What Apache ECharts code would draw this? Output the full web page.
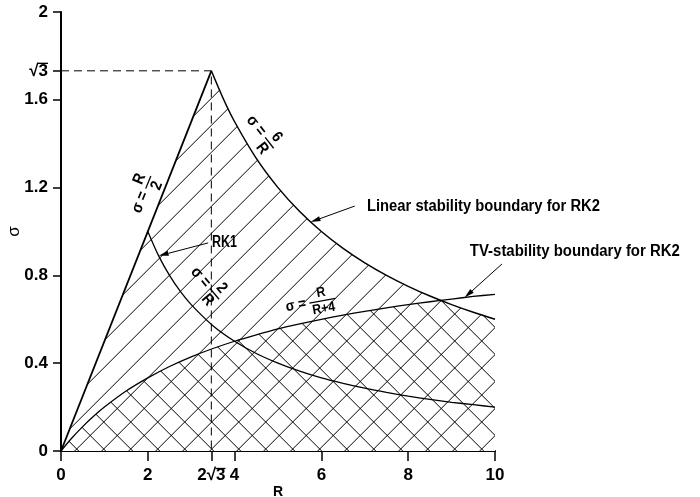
<!DOCTYPE html>
<html>
<head>
<meta charset="utf-8">
<script src="https://cdn.jsdelivr.net/npm/echarts@6/dist/echarts.min.js"></script>
<style>
  html, body { margin: 0; padding: 0; background: #fff; }
  #chart { width: 700px; height: 497px; }
</style>
</head>
<body>
<div id="chart"></div>
<script>
// sigma = R/2 : rising edge of the linear stability region
const halfR = [0, 3.464];
const halfS = [0, 1.732];
// sigma = 6/R : linear stability boundary for RK2
const sixR = [3.464, 3.75, 4, 4.5, 5, 5.5, 6, 6.5, 7, 7.5, 8, 8.5, 9, 9.5, 10];
const sixS = [1.732, 1.6, 1.5, 1.333, 1.2, 1.091, 1.0, 0.923, 0.857, 0.8, 0.75, 0.706, 0.667, 0.632, 0.6];
// sigma = 2/R : RK1 boundary
const twoR = [2, 2.25, 2.5, 2.75, 3, 3.5, 4, 4.5, 5, 5.5, 6, 6.5, 7, 7.5, 8, 8.5, 9, 9.5, 10];
const twoS = [1, 0.889, 0.8, 0.727, 0.667, 0.571, 0.5, 0.444, 0.4, 0.364, 0.333, 0.308, 0.286, 0.267, 0.25, 0.235, 0.222, 0.211, 0.2];
// sigma = R/(R+4) : TV-stability boundary for RK2
const tvR = [0, 0.25, 0.5, 0.75, 1, 1.5, 2, 2.5, 3, 3.5, 4, 4.5, 5, 5.5, 6, 6.5, 7, 7.5, 8, 8.5, 9, 9.5, 10];
const tvS = [0, 0.059, 0.111, 0.158, 0.2, 0.273, 0.333, 0.385, 0.429, 0.467, 0.5, 0.529, 0.556, 0.579, 0.6, 0.619, 0.636, 0.652, 0.667, 0.68, 0.692, 0.704, 0.714];
// where R/(R+4) meets 6/R
const crossR = 8.745;
const crossS = 0.686;
// the peak (2√3, √3)
const peakR = 3.464;
const peakS = 1.732;
// axis ticks
const xTicks = [0, 2, 3.464, 4, 6, 8, 10];
const xTickText = ['0', '2', '2√3', '4', '6', '8', '10'];
const yTicks = [0, 0.4, 0.8, 1.2, 1.6, 1.732, 2];
const yTickText = ['0', '0.4', '0.8', '1.2', '1.6', '√3', '2'];

const FONT = "'Liberation Sans', Arial, sans-serif";
const TICK_FONT_SIZE = 17;
const X_LABEL_MARGIN = 16;
const Y_LABEL_MARGIN = 13;
const pairs = (xs, ys) => xs.map((x, i) => [x, ys[i]]);

// region under the TV boundary: R/(R+4) up to the crossing, then 6/R
const tvAreaPts = pairs(tvR, tvS).filter(p => p[0] < crossR)
  .concat([[crossR, crossS]])
  .concat(pairs(sixR, sixS).filter(p => p[0] > crossR));

// hatch tiles: "/" lines satisfy x+y = c (mod P), "\" lines x-y = d (mod P)
function hatchTile(slash, back, white) {
  const P = 27;
  const cv = document.createElement('canvas');
  cv.width = P; cv.height = P;
  const g = cv.getContext('2d');
  if (white) { g.fillStyle = '#fff'; g.fillRect(0, 0, P, P); }
  g.strokeStyle = '#000';
  g.lineWidth = 1;
  for (let k = -2; k <= 2; k++) {
    if (slash) {
      const C = 12.7 + P * k;
      g.beginPath(); g.moveTo(C + 10, -10); g.lineTo(C - P - 10, P + 10); g.stroke();
    }
    if (back) {
      const D = 5.7 + P * k;
      g.beginPath(); g.moveTo(D - 10, -10); g.lineTo(D + P + 10, P + 10); g.stroke();
    }
  }
  return cv;
}
const slashFill = { image: hatchTile(true, false, false), repeat: 'repeat' };
const crossFill = { image: hatchTile(true, true, true), repeat: 'repeat' };

const chart = echarts.init(document.getElementById('chart'), null, { renderer: 'canvas' });

const areaSeries = (data, fill, z, smooth) => ({
  type: 'line', data, symbol: 'none', smooth, silent: true, z,
  lineStyle: { opacity: 0 },
  areaStyle: { color: fill, opacity: 1 }
});
const curve = (data, width, smooth, extra) => Object.assign({
  type: 'line', data, symbol: 'none', smooth, silent: true, z: 5,
  lineStyle: { color: '#000', width }
}, extra || {});

chart.setOption({
  animation: false,
  backgroundColor: '#fff',
  grid: { left: 61, right: 205, top: 12, bottom: 46, containLabel: false, outerBoundsMode: 'none' },
  xAxis: {
    type: 'value', min: 0, max: 10,
    name: 'R', nameLocation: 'middle', nameGap: 34, nameMoveOverlap: false,
    nameTextStyle: { fontFamily: FONT, fontWeight: 'bold', fontSize: 14, color: '#000' },
    axisLine: { show: true, onZero: false, lineStyle: { color: '#000', width: 2 } },
    axisTick: { show: true, inside: false, length: 10, customValues: xTicks, lineStyle: { color: '#000', width: 1.5 } },
    axisLabel: {
      customValues: xTicks, margin: X_LABEL_MARGIN, color: '#000', fontFamily: FONT, fontWeight: 'bold',
      fontSize: TICK_FONT_SIZE, hideOverlap: false,
      formatter: v => xTickText[xTicks.indexOf(v)]
    },
    splitLine: { show: false }
  },
  yAxis: {
    type: 'value', min: 0, max: 2,
    name: 'σ', nameLocation: 'middle', nameGap: 38, nameRotate: 90, nameMoveOverlap: false,
    nameTextStyle: { fontFamily: FONT, fontSize: 17, color: '#000' },
    axisLine: { show: true, onZero: false, lineStyle: { color: '#000', width: 2 } },
    axisTick: { show: true, inside: false, length: 8, customValues: yTicks, lineStyle: { color: '#000', width: 1.5 } },
    axisLabel: {
      customValues: yTicks, margin: Y_LABEL_MARGIN, color: '#000', fontFamily: FONT, fontWeight: 'bold',
      fontSize: TICK_FONT_SIZE, hideOverlap: false,
      formatter: v => yTickText[yTicks.indexOf(v)]
    },
    splitLine: { show: false }
  },
  series: [
    areaSeries(pairs(halfR, halfS), slashFill, 1, false),
    areaSeries(pairs(sixR, sixS), slashFill, 1, 0.3),
    areaSeries(tvAreaPts, crossFill, 2, 0.3),
    curve(pairs(halfR, halfS), 1.8, false),
    curve(pairs(sixR, sixS), 1.5, 0.3),
    curve(pairs(twoR, twoS), 1.3, 0.3),
    curve(pairs(tvR, tvS), 1.3, 0.3),
    curve([[0, peakS], [peakR, peakS], [peakR, 0]], 1, false,
      { lineStyle: { color: '#000', width: 1, type: [8, 5] } })
  ]
});

// annotations, anchored in data units
const px = p => chart.convertToPixel({ xAxisIndex: 0, yAxisIndex: 0 }, p);
const measureCtx = document.createElement('canvas').getContext('2d');
const textWidth = (t, font) => { measureCtx.font = font; return measureCtx.measureText(t).width; };
const tickFont = `bold ${TICK_FONT_SIZE}px ${FONT}`;

function arrow(from, to) {
  const a = px(from), b = px(to);
  const dx = b[0] - a[0], dy = b[1] - a[1];
  const len = Math.hypot(dx, dy), ux = dx / len, uy = dy / len;
  const hl = 10, hw = 2.6;
  const bx = b[0] - ux * hl, by = b[1] - uy * hl;
  return [
    { type: 'line', shape: { x1: a[0], y1: a[1], x2: bx, y2: by }, style: { stroke: '#000', lineWidth: 1 }, z: 10 },
    { type: 'polygon', shape: { points: [[b[0], b[1]], [bx - uy * hw, by + ux * hw], [bx + uy * hw, by - ux * hw]] },
      style: { fill: '#000' }, z: 10 }
  ];
}

// condensed bold caption: squeezed horizontally to the given width
function note(text, at, size, width) {
  const p = px(at);
  const font = `bold ${size}px ${FONT}`;
  return { type: 'text', x: p[0], y: p[1], z: 10, scaleX: width / textWidth(text, font),
    style: { text, fill: '#000', font, align: 'left', verticalAlign: 'middle' } };
}

// "σ = num/den" set along a curve; rot in degrees, counter-clockwise
function formula(at, rot, num, den, size, dsize) {
  const p = px(at);
  const lead = 'σ = ';
  const w0 = textWidth(lead, `bold ${size}px ${FONT}`);
  const fw = Math.max(textWidth(num, `bold ${dsize}px ${FONT}`), textWidth(den, `bold ${dsize}px ${FONT}`)) + 4;
  const off = -(w0 + fw) / 2;
  const d = dsize * 0.58;
  return {
    type: 'group', x: p[0], y: p[1], rotation: rot * Math.PI / 180, scaleX: 0.88, z: 10,
    children: [
      { type: 'text', x: off, y: 0, style: { text: lead, fill: '#000', font: `bold ${size}px ${FONT}`, align: 'left', verticalAlign: 'middle' } },
      { type: 'text', x: off + w0 + fw / 2, y: -d, style: { text: num, fill: '#000', font: `bold ${dsize}px ${FONT}`, align: 'center', verticalAlign: 'middle' } },
      { type: 'line', shape: { x1: off + w0, y1: 0, x2: off + w0 + fw, y2: 0 }, style: { stroke: '#000', lineWidth: 1.3 } },
      { type: 'text', x: off + w0 + fw / 2, y: d, style: { text: den, fill: '#000', font: `bold ${dsize}px ${FONT}`, align: 'center', verticalAlign: 'middle' } }
    ]
  };
}

// vinculum over the "3" of the √3 tick labels
function vinculum() {
  const w3 = textWidth('3', tickFont);
  const yp = px([0, peakS]);
  const yRight = yp[0] - Y_LABEL_MARGIN;
  const xp = px([peakR, 0]);
  const wx = textWidth('2√3', tickFont);
  const xRight = xp[0] + wx / 2;
  const st = { stroke: '#000', lineWidth: 1.3 };
  return [
    { type: 'line', z: 10, shape: { x1: yRight - w3 - 0.5, y1: yp[1] - 7.5, x2: yRight, y2: yp[1] - 7.5 }, style: st },
    { type: 'line', z: 10, shape: { x1: xRight - w3 - 0.5, y1: xp[1] + X_LABEL_MARGIN + 1.5, x2: xRight, y2: xp[1] + X_LABEL_MARGIN + 1.5 }, style: st }
  ];
}

chart.setOption({
  graphic: [
    note('Linear stability boundary for RK2', [7.05, 1.112], 16, 233),
    ...arrow([6.77, 1.116], [5.75, 1.043]),
    note('TV-stability boundary for RK2', [9.42, 0.907], 16, 210),
    ...arrow([10.16, 0.852], [9.3, 0.699]),
    note('RK1', [3.48, 0.948], 16, 25),
    ...arrow([3.39, 0.948], [2.25, 0.889]),
    formula([1.9, 1.17], 68, 'R', '2', 16, 16),
    formula([4.62, 1.45], -52, '6', 'R', 16, 16),
    formula([3.35, 0.76], -50, '2', 'R', 16, 16),
    formula([5.75, 0.675], 10, 'R', 'R+4', 15, 14),
    ...vinculum()
  ]
});
</script>
</body>
</html>
